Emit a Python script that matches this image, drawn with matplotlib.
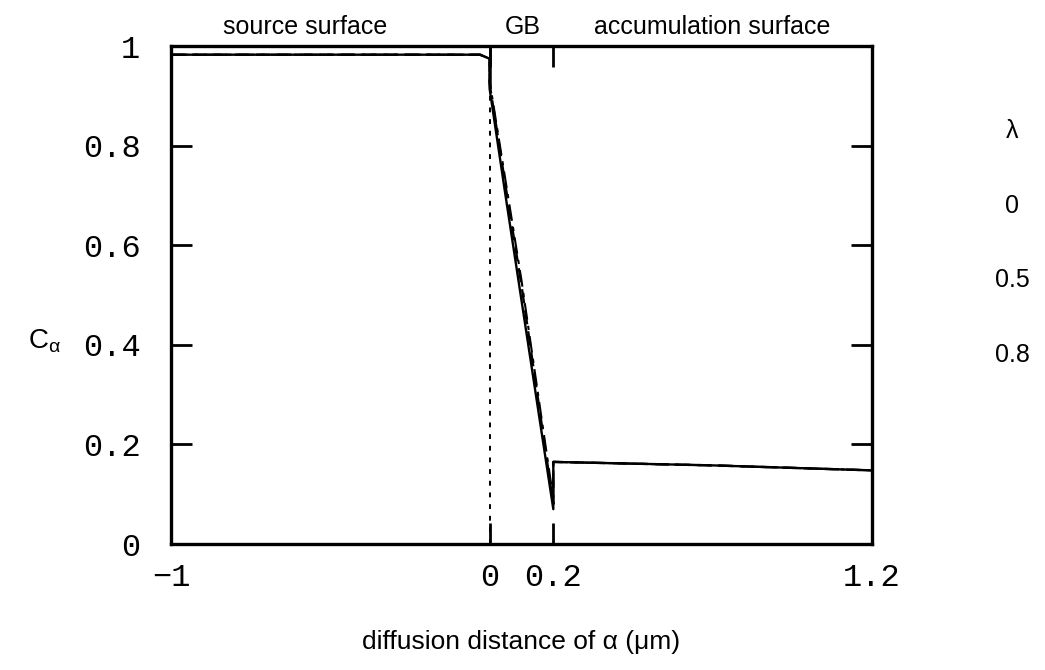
import matplotlib.pyplot as plt

# concentration profiles across source surface / GB / accumulation surface
lambdas = ["0", "0.5", "0.8"]

x_prof = [-1.0, -0.03, 0.0, 0.0, 0.05, 0.1, 0.15, 0.2, 0.2, 0.7, 1.2]
c_lam0 = [0.983, 0.983, 0.975, 0.915, 0.70, 0.49, 0.28, 0.07, 0.165, 0.158, 0.148]
c_lam05 = [0.983, 0.983, 0.975, 0.925, 0.72, 0.52, 0.30, 0.08, 0.165, 0.158, 0.148]
c_lam08 = [0.983, 0.983, 0.975, 0.93, 0.73, 0.53, 0.31, 0.09, 0.165, 0.158, 0.148]

# GB edge at x = 0 (solid part above the profile, dotted below)
gb_x = [0.0, 0.0]
gb_top = [0.92, 1.0]
gb_dotted = [0.0, 0.91]

xticks = [-1, 0, 0.2, 1.2]
xtick_labels = ["\u22121", "0", "0.2", "1.2"]
yticks = [0, 0.2, 0.4, 0.6, 0.8, 1]
ytick_labels = ["0", "0.2", "0.4", "0.6", "0.8", "1"]

regions = ["source surface", "GB", "accumulation surface"]
region_x = [-0.58, 0.105, 0.70]

sans = ["Liberation Sans", "DejaVu Sans"]
mono = ["Liberation Mono", "DejaVu Sans Mono"]

fig = plt.figure(figsize=(10.45, 6.7), dpi=100)
ax = fig.add_axes([0.1636, 0.188, 0.6708, 0.743])

ax.plot(x_prof, c_lam0, color="black", lw=1.7, ls="-")
ax.plot(x_prof, c_lam05, color="black", lw=1.7, ls=(0, (6, 3)))
ax.plot(x_prof, c_lam08, color="black", lw=1.5, ls=(0, (8, 3, 2, 3)))
ax.plot(gb_x, gb_top, color="black", lw=1.8)
ax.plot(gb_x, gb_dotted, color="black", lw=1.4, ls=(0, (2.5, 3.5)))

ax.set_xlim(-1, 1.2)
ax.set_ylim(0, 1)

ax.set_xticks(xticks)
ax.set_xticklabels(xtick_labels, family=mono, fontsize=23)
ax.set_yticks(yticks)
ax.set_yticklabels(ytick_labels, family=mono, fontsize=23)
ax.tick_params(axis="both", direction="in", length=15, width=2,
               top=True, right=True)
ax.tick_params(axis="x", pad=14)
ax.tick_params(axis="y", pad=22)

for sp in ax.spines.values():
    sp.set_linewidth(2.4)

ax.set_xlabel("diffusion distance of \u03b1 (\u03bcm)", family=sans,
              fontsize=19, labelpad=26)
ax.set_ylabel("$\\mathregular{C_\\alpha}$", family=sans, fontsize=20,
              rotation=0, labelpad=0)
ax.yaxis.set_label_coords(-0.18, 0.38)

for name, rx in zip(regions, region_x):
    ax.text(rx, 1.015, name, transform=ax.get_xaxis_transform(),
            ha="center", va="bottom", family=sans, fontsize=18)

# legend: lambda values (line samples not shown in the original)
ax.text(1.2, 0.83, "\u03bb", transform=ax.transAxes, ha="center",
        va="center", family=sans, fontsize=18)
for i, lam in enumerate(lambdas):
    ax.text(1.2, 0.68 - 0.15 * i, lam, transform=ax.transAxes,
            ha="center", va="center", family=sans, fontsize=18)

fig.savefig("out.png", dpi=100)
